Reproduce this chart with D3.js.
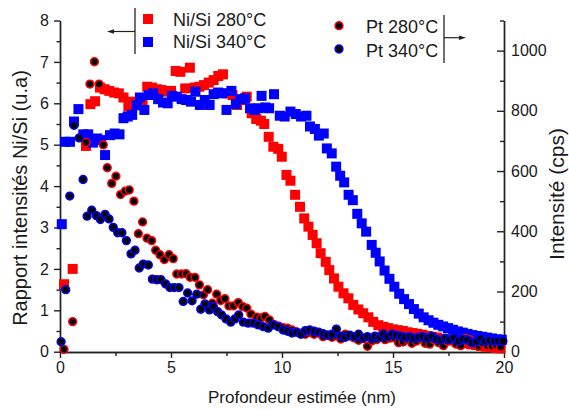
<!DOCTYPE html>
<html>
<head>
<meta charset="utf-8">
<script src="https://cdn.jsdelivr.net/npm/d3@7"></script>
<style>
  body { margin: 0; background: #fff; }
  text { font-family: "Liberation Sans", Arial, sans-serif; fill: #1a1a1a; }
</style>
</head>
<body>
<div id="chart"></div>
<script>
// Ni/Si ratio (left axis), [depth nm, ratio]
var niSi280 = [[0.18,1.63],[0.57,2.0],[1.17,4.97],[1.37,5.98],[1.58,6.05],[1.80,6.38],[2.01,6.34],[2.22,6.30],
  [2.44,6.26],[2.65,6.24],[2.86,6.14],[3.08,5.92],[3.29,6.04],[3.50,6.00],[3.72,6.06],[3.93,6.40],[4.14,6.38],
  [4.36,6.34],[4.57,6.32],[4.78,6.28],[5.00,6.30],[5.21,6.78],[5.42,6.76],[5.64,6.36],[5.85,6.86],[6.06,6.38],
  [6.28,6.40],[6.49,6.44],[6.70,6.50],[6.92,6.56],[7.13,6.66],[7.34,6.70],[7.56,6.24],[7.77,6.20],[7.98,5.96],
  [8.20,6.08],[8.41,6.16],[8.63,5.76],[8.84,5.62],[9.05,5.58],[9.20,5.50],[9.40,5.19],[9.61,4.95],[9.83,4.90],
  [9.99,4.71],[10.20,4.27],[10.38,4.13],[10.59,3.79],[10.81,3.50],[11.00,3.22],[11.19,3.02],[11.38,2.82],
  [11.56,2.62],[11.74,2.38],[11.97,2.17],[12.13,1.97],[12.34,1.77],[12.54,1.57],[12.77,1.41],[12.99,1.29],
  [13.21,1.13],[13.44,1.02],[13.66,0.93],[13.89,0.83],[14.11,0.72],[14.34,0.64],[14.56,0.60],[14.78,0.57],
  [15.00,0.54],[15.22,0.52],[15.44,0.50],[15.66,0.47],[15.88,0.45],[16.10,0.43],[16.32,0.41],[16.54,0.38],
  [16.76,0.36],[16.98,0.34],[17.20,0.31],[17.42,0.29],[17.64,0.27],[17.86,0.24],[18.08,0.22],[18.30,0.20],
  [18.52,0.18],[18.74,0.16],[18.96,0.14],[19.18,0.12],[19.40,0.11],[19.62,0.09],[19.84,0.08]];

var niSi340 = [[0.08,3.08],[0.23,5.07],[0.45,5.07],[0.63,5.56],[0.83,5.86],[1.05,5.25],[1.27,5.25],[1.48,5.05],
  [1.68,5.15],[1.85,5.11],[2.03,4.75],[2.25,5.23],[2.46,5.27],[2.68,5.25],[2.86,5.64],[3.05,5.68],[3.25,5.72],
  [3.45,5.95],[3.60,6.14],[3.80,5.84],[4.00,6.20],[4.20,6.24],[4.42,6.10],[4.64,6.02],[4.85,6.00],[5.05,6.18],
  [5.26,6.16],[5.48,6.10],[5.68,6.08],[5.90,6.04],[6.10,6.28],[6.30,5.96],[6.52,6.08],[6.74,5.96],[6.92,6.22],
  [7.12,6.26],[7.30,6.24],[7.50,5.84],[7.72,6.30],[7.92,5.98],[8.12,6.10],[8.33,6.12],[8.56,5.88],[8.78,5.84],
  [8.95,5.88],[9.08,6.18],[9.25,5.90],[9.42,5.88],[9.64,6.22],[9.90,5.70],[10.12,5.68],[10.38,5.80],[10.62,5.74],
  [10.86,5.68],[11.10,5.70],[11.26,5.44],[11.48,5.38],[11.66,5.22],[11.88,5.27],[12.02,4.91],[12.24,4.79],
  [12.44,4.47],[12.62,4.25],[12.80,4.09],[13.00,3.79],[13.19,3.66],[13.39,3.33],[13.59,3.10],[13.79,2.90],
  [14.04,2.58],[14.22,2.39],[14.40,2.18],[14.62,1.96],[14.84,1.76],[15.06,1.57],[15.28,1.40],[15.50,1.27],
  [15.72,1.15],[15.94,1.03],[16.16,0.92],[16.38,0.83],[16.60,0.76],[16.82,0.70],[17.04,0.65],[17.26,0.61],
  [17.48,0.57],[17.70,0.53],[17.92,0.49],[18.14,0.46],[18.36,0.43],[18.58,0.40],[18.80,0.38],[19.02,0.36],
  [19.24,0.34],[19.46,0.32],[19.68,0.30],[19.90,0.29]];

// Pt intensity (right axis), [depth nm, cps]
var pt280 = [[0.18,8],[0.57,100],[1.17,695],[1.35,889],[1.55,963],[1.76,889],[1.95,687],[2.13,611],[2.33,559],
  [2.52,583],[2.73,522],[2.93,533],[3.12,537],[3.33,500],[3.53,392],[3.72,431],[3.92,377],[4.13,369],[4.31,337],
  [4.50,322],[4.70,306],[4.91,322],[5.10,309],[5.26,258],[5.48,258],[5.68,259],[5.86,247],[6.08,247],[6.28,222],
  [6.46,189],[6.65,206],[6.86,161],[7.06,191],[7.24,170],[7.43,176],[7.61,152],[7.81,152],[8.03,163],[8.23,150],
  [8.41,145],[8.60,125],[8.86,115],[9.05,112],[9.23,117],[9.43,106],[9.65,90],[9.85,85],[10.05,80],[10.25,78],
  [10.45,72],[10.65,66],[10.85,62],[11.05,58],[11.25,64],[11.45,58],[11.65,62],[11.85,50],[12.05,55],[12.25,48],
  [12.45,52],[12.65,42],[12.85,58],[13.05,52],[13.25,46],[13.45,38],[13.65,44],[13.85,18],[14.05,36],[14.25,40],
  [14.45,52],[14.65,40],[14.85,45],[15.05,46],[15.25,30],[15.45,32],[15.65,40],[15.85,28],[16.05,35],[16.25,42],
  [16.45,28],[16.65,25],[16.85,40],[17.05,30],[17.27,20],[17.45,35],[17.65,38],[17.85,25],[18.05,20],[18.25,45],
  [18.45,40],[18.65,25],[18.85,18],[19.05,28],[19.25,20],[19.45,18],[19.65,22],[19.85,15]];

var pt340 = [[0.05,33],[0.26,206],[0.44,517],[0.63,752],[0.86,710],[1.04,572],[1.22,450],[1.43,470],[1.64,452],
  [1.82,439],[2.03,456],[2.21,441],[2.40,413],[2.60,395],[2.79,395],[2.99,369],[3.20,325],[3.38,337],[3.57,278],
  [3.75,291],[3.98,288],[4.16,241],[4.36,239],[4.55,239],[4.76,225],[4.95,213],[5.15,213],[5.36,213],[5.55,167],
  [5.75,195],[5.95,169],[6.16,191],[6.34,141],[6.53,159],[6.73,139],[6.91,150],[7.10,133],[7.28,122],[7.48,109],
  [7.69,98],[7.88,109],[8.05,122],[8.26,98],[8.48,95],[8.71,95],[8.93,89],[9.16,83],[9.38,78],[9.61,89],[9.83,83],
  [10.05,72],[10.25,68],[10.45,62],[10.65,65],[10.85,58],[11.05,70],[11.25,72],[11.45,68],[11.65,65],[11.85,60],
  [12.05,55],[12.25,58],[12.45,75],[12.65,52],[12.85,48],[13.05,55],[13.25,50],[13.45,58],[13.65,45],[13.85,50],
  [14.05,44],[14.19,52],[14.40,48],[14.56,59],[14.75,50],[14.95,58],[15.15,55],[15.35,52],[15.55,48],[15.75,50],
  [15.95,45],[16.15,48],[16.35,50],[16.55,45],[16.75,52],[16.95,42],[17.15,38],[17.35,45],[17.55,40],[17.75,46],
  [17.95,35],[18.15,42],[18.35,38],[18.55,30],[18.75,32],[18.95,44],[19.15,35],[19.35,38],[19.55,36],[19.75,36],
  [19.95,35]];

var xTicks = [0, 5, 10, 15, 20];
var yLeftTicks = [0, 1, 2, 3, 4, 5, 6, 7, 8];
var yRightTicks = [0, 200, 400, 600, 800, 1000];
var legendLeft = ["Ni/Si 280°C", "Ni/Si 340°C"];
var legendRight = ["Pt 280°C", "Pt 340°C"];

var width = 569, height = 410;
var red = "#ff0000", blue = "#0000ff", axisColor = "#222";

var svg = d3.select("#chart").append("svg")
  .attr("width", width)
  .attr("height", height);

var x = d3.scaleLinear().domain([0, 20]).range([60, 504]);
var yL = d3.scaleLinear().domain([0, 8]).range([351.7, 20.5]);
var yR = d3.scaleLinear().domain([0, 1100]).range([351.7, 20.5]);

function styleAxis(g) {
  g.selectAll("path, line").attr("stroke", axisColor).attr("stroke-width", 1.4);
  g.selectAll("text").style("font-size", "16px").attr("fill", "#1a1a1a")
    .style("font-family", "'Liberation Sans', Arial, sans-serif");
}

// bottom axis
svg.append("g").attr("transform", "translate(0,352)")
  .call(d3.axisBottom(x).tickValues([2.5, 7.5, 12.5, 17.5]).tickSize(4).tickSizeOuter(0).tickFormat(""))
  .call(styleAxis);
svg.append("g").attr("transform", "translate(0,352)")
  .call(d3.axisBottom(x).tickValues(xTicks).tickSize(6).tickSizeOuter(0).tickPadding(4))
  .call(styleAxis);

// left axis
svg.append("g").attr("transform", "translate(60,0)")
  .call(d3.axisLeft(yL).tickValues(d3.range(0.5, 8, 1)).tickSize(3.5).tickSizeOuter(0).tickFormat(""))
  .call(styleAxis);
svg.append("g").attr("transform", "translate(60,0)")
  .call(d3.axisLeft(yL).tickValues(yLeftTicks).tickSize(6).tickSizeOuter(0).tickPadding(5))
  .call(styleAxis);

// right axis, ticks pointing inward
svg.append("g").attr("transform", "translate(504,0)")
  .call(d3.axisRight(yR).tickValues([100, 300, 500, 700, 900, 1100]).tickSize(-4).tickSizeOuter(0).tickFormat(""))
  .call(styleAxis);
svg.append("g").attr("transform", "translate(504,0)")
  .call(d3.axisRight(yR).tickValues(yRightTicks).tickSize(-7).tickSizeOuter(0).tickPadding(7).tickFormat(d3.format("d")))
  .call(styleAxis);

// axis titles
svg.append("text")
  .attr("x", 302).attr("y", 403)
  .attr("text-anchor", "middle")
  .style("font-size", "17px")
  .text("Profondeur estimée (nm)");
svg.append("text")
  .attr("transform", "translate(27,198) rotate(-90)")
  .attr("text-anchor", "middle")
  .style("font-size", "20px")
  .text("Rapport intensités Ni/Si (u.a)");
svg.append("text")
  .attr("transform", "translate(564,194) rotate(-90)")
  .attr("text-anchor", "middle")
  .style("font-size", "21px")
  .text("Intensité (cps)");

// data
var sq = 10;
function squares(data, color) {
  svg.append("g").selectAll("rect")
    .data(data)
    .enter().append("rect")
    .attr("x", function(d) { return x(d[0]) - sq/2; })
    .attr("y", function(d) { return yL(d[1]) - sq/2; })
    .attr("width", sq).attr("height", sq)
    .attr("fill", color);
}
function circles(data, color) {
  svg.append("g").selectAll("circle")
    .data(data)
    .enter().append("circle")
    .attr("cx", function(d) { return x(d[0]); })
    .attr("cy", function(d) { return yR(d[1]); })
    .attr("r", 3.9)
    .attr("fill", "#000")
    .attr("stroke", color)
    .attr("stroke-width", 1.5);
}
squares(niSi280, red);
squares(niSi340, blue);
circles(pt280, red);
circles(pt340, blue);

// legend, left (Ni/Si -> left axis)
var leg = svg.append("g");
leg.append("line").attr("x1", 135).attr("x2", 135).attr("y1", 8).attr("y2", 54)
  .attr("stroke", axisColor).attr("stroke-width", 1.3);
leg.append("line").attr("x1", 135).attr("x2", 110).attr("y1", 31.5).attr("y2", 31.5)
  .attr("stroke", axisColor).attr("stroke-width", 1.2);
leg.append("path").attr("d", "M107,31.5 L114,29.3 L114,33.7 Z").attr("fill", axisColor);
leg.selectAll("rect").data(legendLeft).enter().append("rect")
  .attr("x", 143).attr("y", function(d, i) { return 14 + i*23; })
  .attr("width", sq).attr("height", sq)
  .attr("fill", function(d, i) { return i ? blue : red; });
leg.selectAll("text").data(legendLeft).enter().append("text")
  .attr("x", 173).attr("y", function(d, i) { return 26 + i*21.5; })
  .style("font-size", "18px")
  .text(function(d) { return d; });

// legend, right (Pt -> right axis)
var leg2 = svg.append("g");
leg2.append("line").attr("x1", 444).attr("x2", 444).attr("y1", 15).attr("y2", 63)
  .attr("stroke", axisColor).attr("stroke-width", 1.3);
leg2.append("line").attr("x1", 444).attr("x2", 462).attr("y1", 37.7).attr("y2", 37.7)
  .attr("stroke", axisColor).attr("stroke-width", 1.2);
leg2.append("path").attr("d", "M466,37.7 L459,35.5 L459,39.9 Z").attr("fill", axisColor);
leg2.selectAll("circle").data(legendRight).enter().append("circle")
  .attr("cx", 339).attr("cy", function(d, i) { return 25.7 + i*23.3; })
  .attr("r", 3.9).attr("fill", "#000")
  .attr("stroke", function(d, i) { return i ? blue : red; })
  .attr("stroke-width", 1.5);
leg2.selectAll("text").data(legendRight).enter().append("text")
  .attr("x", 366).attr("y", function(d, i) { return 33.3 + i*23.3; })
  .style("font-size", "18px")
  .text(function(d) { return d; });
</script>
</body>
</html>
